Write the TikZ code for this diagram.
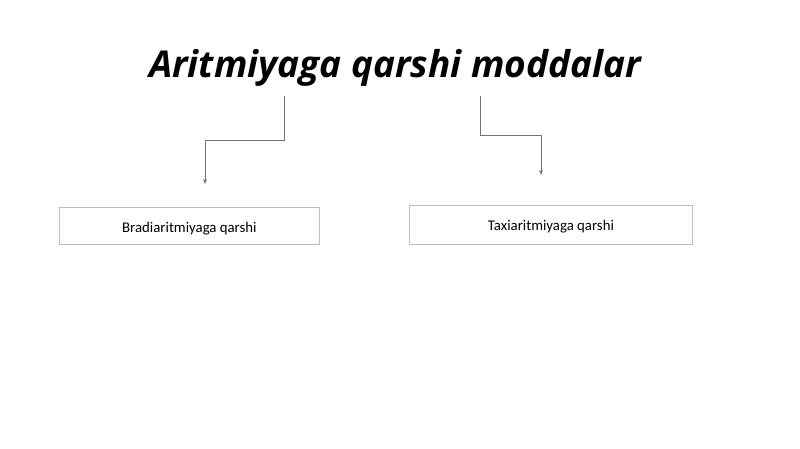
\documentclass[tikz,border=0pt]{standalone}
\usepackage{fontspec}
\setmainfont{Carlito}
\newfontfamily\titlefont{Open Sans}
\usetikzlibrary{positioning}
\usetikzlibrary{arrows.meta}

\begin{document}
\begin{tikzpicture}[x=1pt,y=-1pt,
  box/.style={draw=black!25,line width=0.8pt,inner sep=0pt,anchor=north west,font=\fontsize{14.8}{16}\selectfont},
  link/.style={draw=black!55,line width=0.7pt},
  tip/.style={-{Stealth[length=5pt,width=4pt]}}
]
\useasboundingbox (0,0) rectangle (800,449);
\node[font=\titlefont\bfseries\itshape\fontsize{37}{42}\selectfont] (title) at (395,68) {Aritmiyaga qarshi moddalar};
\node[box,minimum width=260pt,minimum height=37pt] (brady) at (59,207) {\raisebox{-2.5pt}[\height][\depth]{Bradiaritmiyaga qarshi}};
\node[box,minimum width=283pt,minimum height=39pt] (taxi) at (409,205) {\raisebox{-1.5pt}[\height][\depth]{Taxiaritmiyaga qarshi}};
% connectors
\coordinate (l0) at (284,96);
\coordinate (l1) at (205,184);
\coordinate (r0) at (480,96);
\coordinate (r1) at (541,175);
\draw[link,tip] (l0) -- (284,140) -| (l1);
\draw[link,tip] (r0) -- (480,135) -| (r1);
\end{tikzpicture}
\end{document}
